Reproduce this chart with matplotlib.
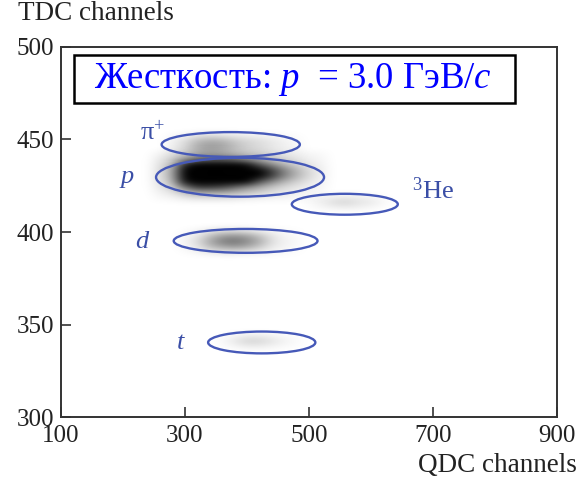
import numpy as np
import matplotlib
matplotlib.use("Agg")
import matplotlib.pyplot as plt
from matplotlib.patches import Ellipse, Rectangle

plt.rcParams['font.family'] = ['Liberation Serif', 'DejaVu Serif']
plt.rcParams['mathtext.fontset'] = 'custom'
plt.rcParams['mathtext.rm'] = 'Liberation Serif'
plt.rcParams['mathtext.it'] = 'Liberation Serif:italic'

# ---------------- data ----------------
x_ticks = [100, 300, 500, 700, 900]
y_ticks = [300, 350, 400, 450, 500]

# density maps (rows top -> bottom), zero at the borders
p_x = [240, 260, 280, 300, 320, 340, 360, 380, 400, 420, 440, 460, 480, 500, 520, 540]
p_y = [445, 442, 439, 436, 433, 430, 427, 424, 421, 418, 415]
p_dens = [
    [0, 0, 0, 0, 0, 0, 0, 0, 0, 0, 0, 0, 0, 0, 0, 0],
    [0, .04, .07, .12, .16, .16, .16, .14, .12, .10, .07, .05, .04, .03, .02, 0],
    [0, .07, .14, .30, .45, .50, .50, .45, .35, .26, .18, .12, .08, .05, .03, 0],
    [0, .09, .22, .70, 1.0, 1.0, 1.0, .92, .78, .55, .38, .24, .15, .08, .04, 0],
    [0, .10, .26, .85, 1.0, 1.0, 1.0, 1.0, .98, .88, .62, .40, .24, .12, .05, 0],
    [0, .10, .26, .85, 1.0, 1.0, 1.0, 1.0, .98, .88, .62, .40, .24, .12, .05, 0],
    [0, .09, .22, .75, 1.0, 1.0, 1.0, .95, .80, .55, .38, .24, .15, .08, .04, 0],
    [0, .07, .15, .42, .62, .62, .58, .48, .36, .27, .18, .12, .08, .05, .03, 0],
    [0, .04, .08, .18, .26, .26, .26, .22, .18, .14, .10, .07, .05, .03, .02, 0],
    [0, .02, .03, .06, .08, .08, .08, .07, .05, .04, .03, .03, .02, .02, .01, 0],
    [0, 0, 0, 0, 0, 0, 0, 0, 0, 0, 0, 0, 0, 0, 0, 0],
]

pi_x = [260, 280, 300, 320, 340, 360, 380, 400, 420, 440, 460, 480, 500]
pi_y = [455, 452, 449, 446, 443, 440]
pi_dens = [
    [0, 0, 0, 0, 0, 0, 0, 0, 0, 0, 0, 0, 0],
    [0, .02, .05, .10, .12, .10, .08, .06, .05, .03, .02, .01, 0],
    [0, .05, .12, .25, .30, .28, .20, .15, .12, .08, .05, .02, 0],
    [0, .06, .15, .30, .36, .33, .24, .17, .13, .09, .06, .03, 0],
    [0, .04, .10, .20, .24, .21, .15, .11, .09, .06, .04, .02, 0],
    [0, .02, .04, .06, .08, .07, .05, .04, .03, .02, .02, .01, 0],
]

d_x = [280, 300, 320, 340, 360, 380, 400, 420, 440, 460, 480, 500]
d_y = [404, 401, 398, 395, 392, 389, 386]
d_dens = [
    [0, 0, 0, 0, 0, 0, 0, 0, 0, 0, 0, 0],
    [0, .01, .03, .07, .10, .10, .08, .05, .03, .02, .01, 0],
    [0, .03, .08, .22, .34, .38, .34, .22, .10, .04, .02, 0],
    [0, .04, .12, .30, .45, .50, .42, .30, .12, .05, .03, 0],
    [0, .03, .08, .22, .30, .34, .30, .19, .08, .04, .02, 0],
    [0, .01, .03, .06, .08, .08, .06, .05, .03, .02, .01, 0],
    [0, 0, 0, 0, 0, 0, 0, 0, 0, 0, 0, 0],
]

he_x = [480, 500, 520, 540, 560, 580, 600, 620, 640]
he_y = [422, 419, 416, 413, 410]
he_dens = [
    [0, 0, 0, 0, 0, 0, 0, 0, 0],
    [0, .01, .03, .05, .06, .05, .03, .01, 0],
    [0, .02, .06, .12, .15, .10, .08, .03, 0],
    [0, .01, .03, .05, .06, .05, .03, .01, 0],
    [0, 0, 0, 0, 0, 0, 0, 0, 0],
]

t_x = [340, 360, 380, 400, 420, 440, 460, 480, 500]
t_y = [347, 344, 341, 338, 335]
t_dens = [
    [0, 0, 0, 0, 0, 0, 0, 0, 0],
    [0, .01, .03, .06, .06, .04, .02, .01, 0],
    [0, .02, .08, .15, .15, .10, .05, .02, 0],
    [0, .01, .03, .06, .06, .04, .02, .01, 0],
    [0, 0, 0, 0, 0, 0, 0, 0, 0],
]

# selection ellipses: centre x, centre y, width, height
ell_names = ['pi', 'p', 'He3', 'd', 't']
ell_cx = [374, 389, 558, 398, 424]
ell_cy = [447.3, 429.6, 415.0, 395.2, 340.3]
ell_w = [223, 271, 171, 232, 173]
ell_h = [13.4, 21.0, 11.3, 12.9, 11.8]

# particle labels
lab_text = ['π$^{+}$', r'$p$', r'$d$', r'$t$', r'$^{3}$He']
lab_x = [248, 206, 232, 294, 700]
lab_y = [453.5, 428.5, 394.6, 340.0, 422.5]

# ---------------- figure ----------------
fig = plt.figure(figsize=(5.8, 4.79), dpi=100)
ax = fig.add_axes([0.105, 0.1294, 0.855, 0.7725])


def draw_density(xs, ys, dens, vmax):
    xs = np.asarray(xs, float)
    ys = np.asarray(ys, float)
    a = np.clip(np.asarray(dens, float) / vmax, 0, 1)
    rgba = np.zeros(a.shape + (4,))
    rgba[..., 3] = a
    dx = xs[1] - xs[0]
    dy = abs(ys[1] - ys[0])
    ext = [xs[0] - dx / 2, xs[-1] + dx / 2, ys[-1] - dy / 2, ys[0] + dy / 2]
    ax.imshow(rgba, extent=ext, aspect='auto', interpolation='bicubic',
              origin='upper', zorder=1)


draw_density(p_x, p_y, p_dens, 0.8)
draw_density(pi_x, pi_y, pi_dens, 0.9)
draw_density(d_x, d_y, d_dens, 0.9)
draw_density(he_x, he_y, he_dens, 0.9)
draw_density(t_x, t_y, t_dens, 0.9)
ax.set_xlim(100, 900)
ax.set_ylim(300, 500)

ell_color = '#4659b8'
for cx, cy, w, h in zip(ell_cx, ell_cy, ell_w, ell_h):
    ax.add_patch(Ellipse((cx, cy), w, h, fill=False, edgecolor=ell_color,
                         linewidth=1.7, zorder=3))

lab_color = '#3a4ea6'
for t, x, y in zip(lab_text, lab_x, lab_y):
    ax.text(x, y, t, color=lab_color, fontsize=19, ha='center', va='center',
            zorder=4)

ax.set_xticks(x_ticks)
ax.set_yticks(y_ticks)
ax.tick_params(direction='in', length=7, width=1.2, colors='#333333',
               labelsize=18, top=False, right=False)
ax.tick_params(axis='x', pad=6)
ax.tick_params(axis='y', pad=5)
for lbl in ax.get_xticklabels() + ax.get_yticklabels():
    lbl.set_color('#222222')
for s in ax.spines.values():
    s.set_color('#333333')
    s.set_linewidth(1.4)

fig.text(18 / 580, 1 - 14 / 479, 'TDC channels', fontsize=19.5, ha='left',
         va='center', color='#222222')
fig.text(577 / 580, 1 - 466 / 479, 'QDC channels', fontsize=19.5, ha='right',
         va='center', color='#222222')

# title box
fig.patches.append(Rectangle((74 / 580, 1 - 103 / 479), 441 / 580, 48 / 479,
                             transform=fig.transFigure, fill=True,
                             facecolor='white', edgecolor='black',
                             linewidth=1.8, zorder=5))
fig.text(293 / 580, 1 - 79 / 479, 'Жесткость: $p$  = 3.0 ГэВ/$c$',
         fontsize=26.5, color='#0000ff', ha='center', va='center', zorder=6)

fig.savefig('out.png', dpi=100)
